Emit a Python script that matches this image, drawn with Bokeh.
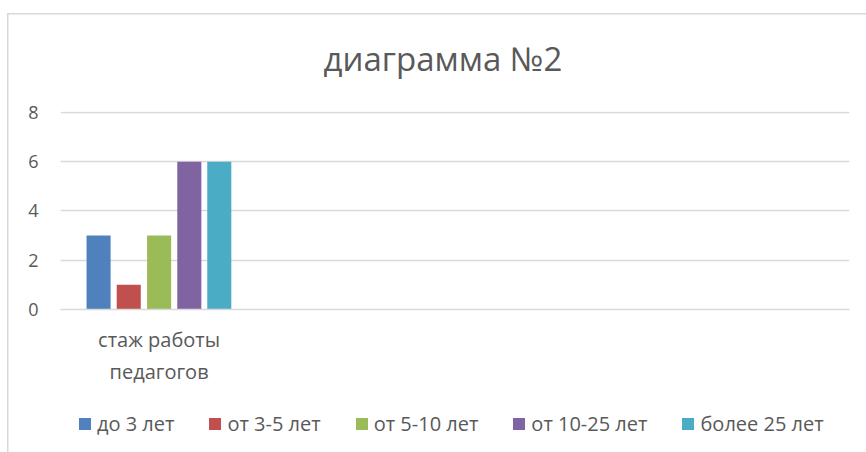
from bokeh.plotting import figure
from bokeh.models import Legend, LegendItem, FactorRange
from bokeh.layouts import column
from bokeh.transform import dodge
from bokeh.embed import file_html
from bokeh.resources import INLINE

categories = ["стаж работы\nпедагогов", " ", "  ", "   "]
series_names = ["до 3 лет", "от 3-5 лет", "от 5-10 лет", "от 10-25 лет", "более 25 лет"]
series_values = [3, 1, 3, 6, 6]
series_colors = ["#4f81bd", "#c0504d", "#9bbb59", "#8064a2", "#4bacc6"]
y_ticks = [0, 2, 4, 6, 8]
title_text = "диаграмма №2"

FONT = "Open Sans"
TXT = "#595959"
GRID = "#d9d9d9"

p = figure(frame_width=789, frame_height=198, x_range=FactorRange(*categories), y_range=(0, 8.04),
           output_backend="svg", toolbar_location=None,
           min_border_left=60, min_border_right=17, min_border_top=111, min_border_bottom=89)
p.border_fill_color = None
p.title.text = title_text
p.title.align = "left"
p.title.offset = 263
p.title.text_font = FONT
p.title.text_font_size = "33px"
p.title.text_font_style = "normal"
p.title.text_color = TXT
p.title.standoff = 62

offsets = [-0.307, -0.154, 0.0, 0.153, 0.305]
for name, v, c, off in zip(series_names, series_values, series_colors, offsets):
    p.vbar(x=dodge("cat", off, range=p.x_range), top="val", width=0.122,
           source={"cat": [categories[0]], "val": [v]}, color=c, line_color=None)

p.outline_line_color = None
p.xgrid.grid_line_color = None
p.ygrid.grid_line_color = GRID
p.ygrid.grid_line_width = 1.5
p.yaxis.ticker = y_ticks
p.yaxis.axis_line_color = None
p.yaxis.major_tick_line_color = None
p.yaxis.minor_tick_line_color = None
p.yaxis.major_label_standoff = 16
p.yaxis.major_label_text_font = FONT
p.yaxis.major_label_text_font_size = "18px"
p.yaxis.major_label_text_color = TXT

p.xaxis.axis_line_color = GRID
p.xaxis.axis_line_width = 1.5
p.xaxis.major_tick_line_color = None
p.xaxis.major_label_text_font = FONT
p.xaxis.major_label_text_font_size = "20px"
p.xaxis.major_label_text_color = TXT
p.xaxis.major_label_standoff = 10

# legend strip (frame aligned with the main plot)
leg = figure(frame_width=789, frame_height=54, x_range=(0, 1), y_range=(0, 1),
             output_backend="svg", toolbar_location=None,
             x_axis_location=None, y_axis_location=None,
             min_border_left=60, min_border_right=17, min_border_top=0, min_border_bottom=0)
leg.border_fill_color = None
leg.background_fill_color = None
leg.outline_line_color = None
leg.xgrid.grid_line_color = None
leg.ygrid.grid_line_color = None
items = []
for name, c in zip(series_names, series_colors):
    r = leg.vbar(x=[0.5], top=[0], width=0, color=c, line_color=None)
    items.append(LegendItem(label=name, renderers=[r]))
legend = Legend(items=items, orientation="horizontal", location=(17, 15),
                label_text_font=FONT, label_text_font_size="20px", label_text_color=TXT,
                glyph_width=15, glyph_height=15, label_standoff=5, spacing=33,
                border_line_color=None, background_fill_alpha=0, padding=0, margin=0)
leg.add_layout(legend)

layout = column(p, leg, spacing=0, styles={
    "background-image": f"linear-gradient({GRID}, {GRID}), linear-gradient({GRID}, {GRID})",
    "background-size": "100% 1.5px, 1.5px 100%",
    "background-position": "7px 13px, 7px 13px",
    "background-repeat": "no-repeat",
})
open("out.html", "w").write(file_html(layout, INLINE))
